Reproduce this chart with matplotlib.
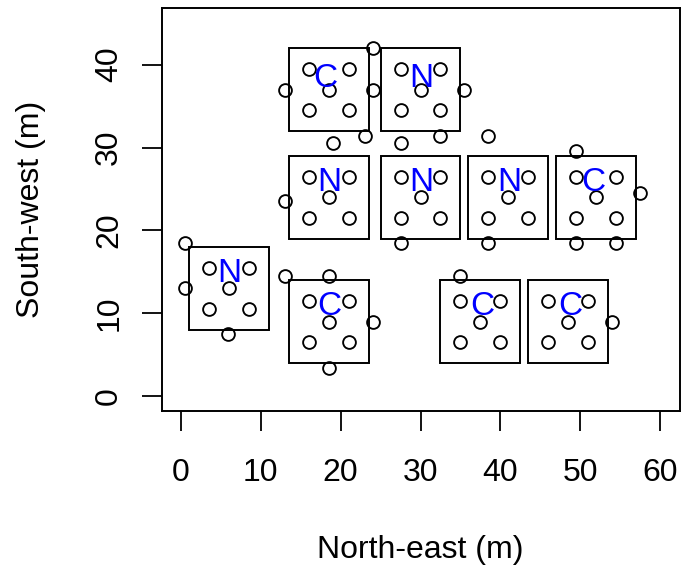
import matplotlib
matplotlib.use("Agg")
import matplotlib.pyplot as plt
from matplotlib.patches import Rectangle

# ---- data ----
# subplot rectangles (lower-left corners, 10 x 10 m)
rect_x0 = [13.5, 25.0, 13.5, 25.0, 36.0, 47.0, 1.0, 13.5, 32.5, 43.5]
rect_y0 = [32.0, 32.0, 19.0, 19.0, 19.0, 19.0, 8.0, 4.0, 4.0, 4.0]
rect_w = 10
rect_h = 10

# treatment labels and their positions
treat = ["C", "N", "N", "N", "N", "C", "N", "C", "C", "C"]
treat_x = [18.1, 30.1, 18.6, 30.1, 41.1, 51.6, 6.1, 18.6, 37.7, 48.75]
treat_y = [37.3, 37.25, 24.7, 24.7, 24.7, 24.75, 13.75, 9.75, 9.75, 9.75]

# sampling points inside the subplots
inner_x = [16, 21, 18.5, 16, 21,
           27.5, 32.5, 30, 27.5, 32.5,
           16, 21, 18.5, 16, 21,
           27.5, 32.5, 30, 27.5, 32.5,
           38.5, 43.5, 41, 38.5, 43.5,
           49.5, 54.5, 52, 49.5, 54.5,
           3.5, 8.5, 6, 3.5, 8.5,
           16, 21, 18.5, 16, 21,
           35, 40, 37.5, 35, 40,
           46, 51, 48.5, 46, 51]
inner_y = [39.5, 39.5, 37, 34.5, 34.5,
           39.5, 39.5, 37, 34.5, 34.5,
           26.5, 26.5, 24, 21.5, 21.5,
           26.5, 26.5, 24, 21.5, 21.5,
           26.5, 26.5, 24, 21.5, 21.5,
           26.5, 26.5, 24, 21.5, 21.5,
           15.5, 15.5, 13, 10.5, 10.5,
           11.5, 11.5, 9, 6.5, 6.5,
           11.5, 11.5, 9, 6.5, 6.5,
           11.5, 11.5, 9, 6.5, 6.5]

# additional sampling points
outer_x = [24, 13, 24, 19, 23, 27.5, 13, 35.5, 32.5, 38.5, 49.5, 57.5,
           0.5, 0.5, 5.9, 27.5, 13, 18.5, 24, 18.5, 38.5, 49.5, 54.5, 35, 54]
outer_y = [42, 37, 37, 30.5, 31.4, 30.5, 23.5, 37, 31.4, 31.4, 29.6, 24.5,
           18.5, 13, 7.5, 18.5, 14.5, 14.5, 9, 3.4, 18.5, 18.5, 18.5, 14.5, 9]

x_ticks = [0, 10, 20, 30, 40, 50, 60]
y_ticks = [0, 10, 20, 30, 40]

# ---- figure ----
plt.rcParams["font.family"] = ["Liberation Sans", "DejaVu Sans"]
W, H = 681, 565
fig = plt.figure(figsize=(W / 100, H / 100), dpi=100)
left, right, top, bottom = 161.5, 679.5, 8.3, 411.0
ax = fig.add_axes([left / W, 1 - bottom / H, (right - left) / W, (bottom - top) / H])

for x0, y0 in zip(rect_x0, rect_y0):
    ax.add_patch(Rectangle((x0, y0), rect_w, rect_h, fill=False,
                           edgecolor="black", linewidth=1.4, zorder=2))

ax.plot(inner_x + outer_x, inner_y + outer_y, linestyle="none", marker="o",
        markersize=9.2, markerfacecolor="none", markeredgecolor="black",
        markeredgewidth=1.35, zorder=3)

for t, x, y in zip(treat, treat_x, treat_y):
    ax.text(x, y, t, color="#0000FF", fontsize=24, ha="center", va="baseline",
            zorder=4)

ax.set_xlim(-2.4, 62.4)
ax.set_ylim(-1.8, 46.8)
ax.set_xticks(x_ticks)
ax.set_yticks(y_ticks)
ax.set_xticklabels([str(v) for v in x_ticks])
ax.set_yticklabels([str(v) for v in y_ticks], rotation=90, va="center")
ax.tick_params(axis="both", direction="out", length=14.4, width=1.3,
               labelsize=23, colors="black")
ax.tick_params(axis="x", pad=19.5)
ax.tick_params(axis="y", pad=12.5)
for s in ax.spines.values():
    s.set_linewidth(1.4)
    s.set_color("black")

fig.text(420.5 / W, 1 - 558 / H, "North-east (m)", fontsize=23,
         ha="center", va="baseline")
fig.text(31 / W, 1 - 209.5 / H, "South-west (m)", fontsize=23,
         rotation=90, ha="center", va="center")

fig.savefig("out.png", dpi=100)
